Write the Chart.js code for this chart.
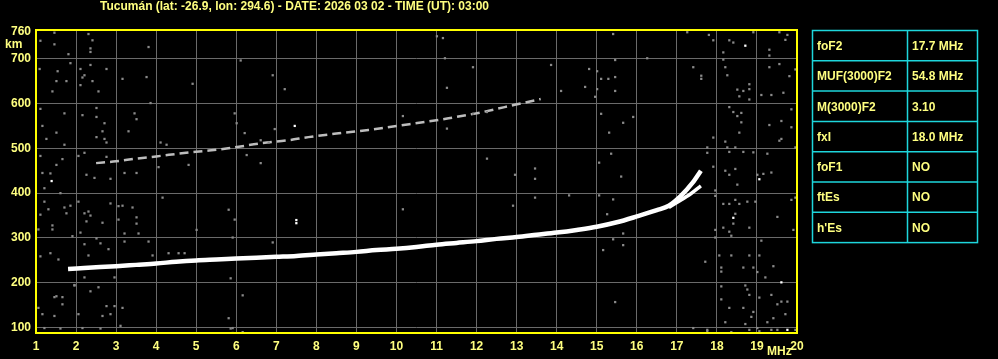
<!DOCTYPE html>
<html>
<head>
    <title>Ionogram Tucumán</title>
    <script src="https://cdn.jsdelivr.net/npm/chart.js@4.4.1/dist/chart.umd.min.js"></script>
    <style>
        body { margin: 0; background: #000; }
        canvas { display: block; }
    </style>
</head>
<body>
<canvas id="canvas" width="998" height="359"></canvas>
<script>
    // ---- data ----
    var title = 'Tucumán (lat: -26.9, lon: 294.6) - DATE: 2026 03 02 - TIME (UT): 03:00';
    var paramNames  = ['foF2', 'MUF(3000)F2', 'M(3000)F2', 'fxI', 'foF1', 'ftEs', "h'Es"];
    var paramValues = ['17.7 MHz', '54.8 MHz', '3.10', '18.0 MHz', 'NO', 'NO', 'NO'];
    var heightTicks = [100, 200, 300, 400, 500, 600, 700, 760];

    // F2 ordinary trace (MHz, km)
    var oFreq   = [1.8, 2.2, 2.6, 3.0, 3.5, 4.0, 4.5, 5.0, 5.5, 6.0, 6.5, 7.0, 7.5, 8.0, 8.5, 9.0, 9.5, 10.0, 10.5, 11.0, 11.5, 12.0, 12.5, 13.0, 13.5, 14.0, 14.5, 15.0, 15.5, 16.0, 16.5, 16.8, 17.1, 17.4, 17.6];
    var oHeight = [231, 233, 235, 237, 240, 243, 247, 250, 252, 254, 256, 258, 260, 263, 266, 269, 273, 276, 280, 285, 289, 293, 298, 302, 307, 312, 318, 325, 335, 348, 362, 372, 394, 424, 450];
    // extraordinary branch near the top
    var xFreq   = [16.8, 17.0, 17.34, 17.6];
    var xHeight = [368, 379, 398, 416];
    // second hop echo
    var hopFreq   = [2.5, 3.0, 3.5, 4.0, 4.75, 5.2, 5.8, 6.6, 7.3, 7.8, 8.5, 9.3, 10.0, 10.8, 11.3, 12.1, 12.7, 13.1, 13.6];
    var hopHeight = [467, 471, 477, 482, 490, 494, 500, 511, 518, 525, 533, 541, 550, 560, 567, 580, 592, 600, 610];

    // scattered echoes (MHz, km)
    var noiseGray = [
        [1.11,740],[1.46,758],[1.46,732],[2.31,755],[2.41,741],[2.36,723],[2.36,715],[3.81,726],[1.81,710],[1.86,690],[1.09,677],[1.54,672],[2.11,677],[2.21,663],[2.16,658],[2.76,677],[2.36,686],[1.51,650],[1.76,650],[2.41,650],[3.16,655],[3.76,659],[2.11,641],[1.41,627],[2.56,627],[4.91,644],[6.11,696],[6.91,663],[7.21,632],[3.86,601],[1.11,588],[2.51,590],[1.71,578],[2.16,574],[2.51,570],[3.46,578],[3.51,565],[1.16,550],[2.71,556],[2.66,538],[3.31,538],[1.51,535],[2.51,525],[2.71,521],[2.76,513],[1.26,521],[1.71,508],[5.96,578],[6.01,556],[6.21,534],[6.96,543],[6.61,518],[6.81,513],[4.11,513],[4.26,508],[1.11,483],[2.21,490],[2.06,483],[1.66,476],[1.51,463],[2.76,481],[4.81,463],[4.06,458],[6.26,485],[6.61,467],[1.16,445],[1.36,444],[2.26,441],[2.46,434],[2.86,432],[3.21,445],[3.51,445],
        [1.21,411],[1.61,400],[1.21,381],[2.06,381],[1.71,368],[1.86,372],[2.86,377],[3.06,371],[3.16,372],[3.41,368],[4.16,390],[1.31,364],[1.11,352],[1.76,355],[2.21,355],[2.31,359],[2.36,350],[3.51,346],[3.06,341],[2.26,337],[2.66,334],[3.51,332],[1.41,328],[1.41,319],[1.06,319],[2.11,312],[1.91,304],[3.21,310],[3.56,310],[5.81,363],[5.96,341],[5.01,318],[5.91,301],[6.91,290],[2.51,299],[2.61,288],[2.21,286],[2.81,275],[3.21,292],[3.81,292],[1.36,266],[1.11,259],[1.56,252],[2.31,261],[4.31,266],[4.56,266],[4.71,266],[3.91,261],[2.21,212],[2.96,212],[1.96,195],[2.56,190],[2.36,181],[5.86,210],[6.16,172],[1.51,170],[1.46,168],[1.66,168],[1.66,152],[2.76,148],[2.96,148],[3.16,144],[1.06,144],[1.16,130],[1.46,126],[2.06,130],[2.66,126],[2.86,130],[5.81,121],[3.11,104],[1.21,99],[2.16,99],[5.91,99],[6.16,90],[5.91,88],[1.61,98],[2.61,98],[5.86,98],[1.96,194],
        [11.01,750],[11.16,746],[11.21,701],[11.91,681],[13.86,686],[15.41,755],[16.26,701],[17.41,681],[17.26,759],[14.81,677],[15.01,672],[15.46,697],[15.11,655],[15.29,655],[15.46,659],[14.71,637],[15.01,632],[15.46,628],[14.96,615],[14.11,628],[11.26,635],[15.11,577],[15.91,570],[15.66,557],[15.31,535],[15.36,488],[15.06,468],[12.26,477],[11.26,544],[11.91,577],[12.26,581],[10.16,572],[13.46,455],[12.96,441],[13.46,432],[15.61,437],[10.16,364],[12.91,372],[13.46,390],[14.31,395],[15.06,395],[15.41,386],[15.26,353],[15.66,310],[15.41,297],[15.66,284],[15.16,273],[17.76,490],[15.46,157],
        [17.80,753],[17.91,741],[18.31,741],[18.41,736],[18.91,759],[19.56,759],[19.76,753],[19.71,742],[19.31,720],[19.31,707],[18.16,714],[18.16,698],[18.21,681],[19.31,681],[19.56,688],[19.96,676],[19.81,661],[17.61,662],[17.61,655],[18.26,663],[18.81,643],[18.81,632],[18.51,631],[18.66,628],[18.56,616],[18.81,609],[19.11,619],[19.36,619],[19.66,624],[19.86,587],[18.31,592],[18.41,581],[18.51,572],[18.61,579],[18.61,558],[19.31,552],[19.61,561],[19.86,547],[18.21,515],[17.91,524],[18.56,535],[19.56,517],[19.61,521],[17.76,502],[18.26,502],[18.46,502],[18.66,492],[18.91,491],[19.26,488],[19.96,502],[18.31,492],[17.91,459],[18.21,450],[18.46,454],[18.31,441],[19.01,441],[19.16,443],[19.36,446],[18.51,419],[17.96,406],[17.96,394],[18.16,376],[18.31,376],[18.56,376],[18.46,385],[18.76,381],[18.96,381],[19.86,385],[19.96,390],[18.46,354],[18.41,332],[18.16,323],[18.31,314],[18.36,305],[18.81,323],[19.51,347],[19.91,318],[17.96,318],[17.96,301],[19.11,294],[17.71,247],[18.06,261],[18.36,261],[18.81,261],[19.06,261],[18.11,234],[18.11,225],[18.66,234],[18.91,234],[19.01,224],[19.21,212],[19.41,237],[18.11,192],[18.71,194],[18.76,185],[18.81,173],[19.06,167],[19.36,173],[19.61,158],[19.76,158],[19.51,152],[18.11,163],[18.31,144],[18.66,144],[18.91,135],[18.86,124],[19.41,121],[19.71,130],[18.21,112],[18.71,108],[19.26,112],[17.76,95],[18.36,90],[18.81,95],[19.06,92],[19.36,95],[19.51,95],[19.96,95],[17.41,99],[19.01,99],[17.76,92]
    ];
    var noiseWhite = [[18.71,729],[7.46,550],[19.06,431],[18.41,345],[19.61,201],[19.76,95],[1.39,427],[7.5,340],[7.5,333]];

    var YELLOW = '#ffff00';
    var TEXT = '#ffff80';
    var CYAN = '#1ed6dc';
    var GRID = '#6a6a6a';
    var FONT = 'bold 12px "Liberation Sans", Arial, sans-serif';

    function pairs(fs, hs) {
        return fs.map(function (f, i) { return { x: f, y: hs[i] }; });
    }
    function pts(list) {
        return list.map(function (p) { return { x: p[0], y: p[1] }; });
    }

    // frame, title, unit labels and parameter table
    var decor = {
        id: 'decor',
        afterDraw: function (chart) {
            var ctx = chart.ctx;
            var a = chart.chartArea;
            ctx.save();
            ctx.strokeStyle = YELLOW;
            ctx.lineWidth = 2;
            ctx.strokeRect(a.left, a.top, a.right - a.left, a.bottom - a.top);

            ctx.fillStyle = TEXT;
            ctx.font = FONT;
            ctx.textBaseline = 'middle';
            ctx.textAlign = 'center';
            ctx.fillText(title, 294.5, 7, 408);
            ctx.textAlign = 'left';
            ctx.fillText('km', 5, 45);
            ctx.fillText('MHz', 767, 352);

            var x0 = 812.5, x1 = 907.5, x2 = 977.5, y0 = 30.5, rowH = 30.3;
            ctx.strokeStyle = CYAN;
            ctx.lineWidth = 1.5;
            ctx.strokeRect(x0, y0, x2 - x0, rowH * paramNames.length);
            ctx.beginPath();
            for (var i = 1; i < paramNames.length; i++) {
                ctx.moveTo(x0, y0 + rowH * i);
                ctx.lineTo(x2, y0 + rowH * i);
            }
            ctx.moveTo(x1, y0);
            ctx.lineTo(x1, y0 + rowH * paramNames.length);
            ctx.stroke();
            for (var j = 0; j < paramNames.length; j++) {
                var cy = y0 + rowH * j + rowH / 2 + 1;
                ctx.fillText(paramNames[j], 817, cy);
                ctx.fillText(paramValues[j], 912, cy);
            }
            ctx.restore();
        }
    };

    var context = document.getElementById('canvas').getContext('2d');
    var chart = new Chart(context, {
        type: 'scatter',
        data: {
            datasets: [
                {
                    data: pts(noiseGray),
                    pointStyle: 'rect', pointRadius: 1.6, pointBorderWidth: 0,
                    pointBackgroundColor: '#8a8a8a', showLine: false
                },
                {
                    data: pts(noiseWhite),
                    pointStyle: 'rect', pointRadius: 1.6, pointBorderWidth: 0,
                    pointBackgroundColor: '#ffffff', showLine: false
                },
                {
                    data: pairs(hopFreq, hopHeight),
                    showLine: true, borderColor: '#bdbdbd', borderWidth: 2.5,
                    borderDash: [9, 5], pointRadius: 0, cubicInterpolationMode: 'monotone'
                },
                {
                    data: pairs(xFreq, xHeight),
                    showLine: true, borderColor: '#ffffff', borderWidth: 3.5,
                    pointRadius: 0, cubicInterpolationMode: 'monotone'
                },
                {
                    data: pairs(oFreq, oHeight),
                    showLine: true, borderColor: '#ffffff', borderWidth: 4.5,
                    pointRadius: 0, cubicInterpolationMode: 'monotone'
                }
            ]
        },
        options: {
            responsive: false,
            animation: false,
            layout: { padding: { top: 30, right: 201, left: 0, bottom: 0 } },
            plugins: {
                legend: { display: false },
                tooltip: { enabled: false }
            },
            scales: {
                x: {
                    type: 'linear', min: 1, max: 20,
                    afterFit: function (s) { s.height = 26; },
                    border: { display: false },
                    grid: { color: GRID, lineWidth: 1, drawTicks: false },
                    ticks: {
                        stepSize: 1, autoSkip: false, maxRotation: 0, padding: 6,
                        color: TEXT, font: { family: '"Liberation Sans", Arial, sans-serif', size: 12, weight: 'bold' }
                    }
                },
                y: {
                    type: 'linear', min: 88, max: 764,
                    afterFit: function (s) { s.width = 36; },
                    afterBuildTicks: function (s) {
                        s.ticks = heightTicks.map(function (v) { return { value: v }; });
                    },
                    border: { display: false },
                    grid: {
                        drawTicks: false, lineWidth: 1,
                        color: function (c) { return c.tick && c.tick.value === 760 ? 'rgba(0,0,0,0)' : GRID; }
                    },
                    ticks: {
                        padding: 5, color: TEXT,
                        font: { family: '"Liberation Sans", Arial, sans-serif', size: 12, weight: 'bold' }
                    }
                }
            }
        },
        plugins: [decor]
    });
</script>
</body>
</html>
